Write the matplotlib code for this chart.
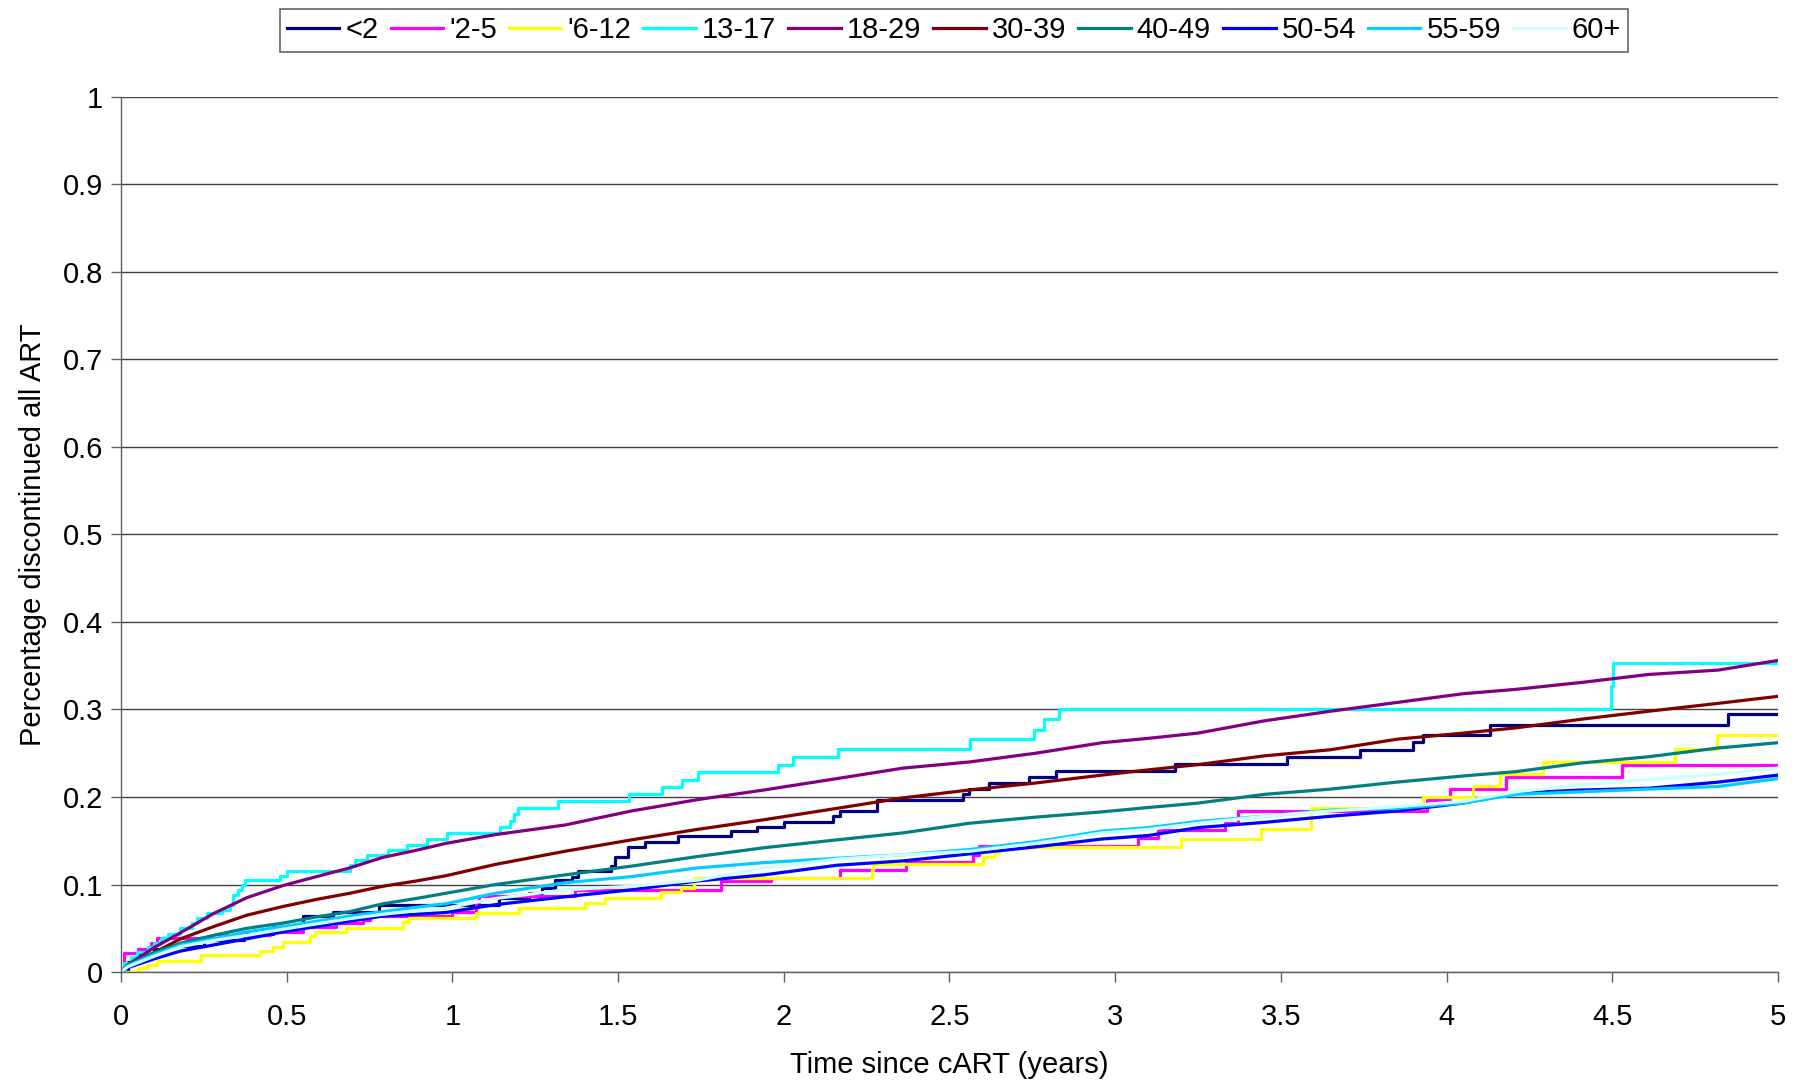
import matplotlib
matplotlib.use("Agg")
import matplotlib.pyplot as plt

plt.rcParams['font.family'] = ['Liberation Sans', 'DejaVu Sans']

# step-shaped groups (time in years, cumulative proportion)
t_lt2 = [0, 0.02, 0.05, 0.1, 0.15, 0.25, 0.37, 0.46, 0.55, 0.64, 0.78, 1.14, 1.23, 1.27, 1.31, 1.36, 1.38,
         1.48, 1.49, 1.53, 1.58, 1.68, 1.84, 1.92, 2.0, 2.15, 2.17, 2.28, 2.54, 2.56, 2.62, 2.74, 2.82,
         3.18, 3.52, 3.74, 3.9, 3.93, 4.13, 4.85, 5.0]
v_lt2 = [0, 0.012, 0.02, 0.026, 0.03, 0.037, 0.044, 0.052, 0.0645, 0.069, 0.077, 0.085, 0.09, 0.096, 0.105,
         0.109, 0.116, 0.121, 0.132, 0.143, 0.149, 0.155, 0.161, 0.166, 0.172, 0.178, 0.184, 0.197, 0.203,
         0.209, 0.216, 0.223, 0.23, 0.2375, 0.246, 0.2535, 0.2625, 0.271, 0.282, 0.295, 0.295]

t_2_5 = [0, 0.01, 0.05, 0.09, 0.11, 0.3, 0.45, 0.55, 0.65, 0.73, 0.75, 1.0, 1.07, 1.08, 1.37, 1.81, 1.96,
         2.17, 2.37, 2.57, 2.59, 3.07, 3.13, 3.33, 3.37, 3.94, 4.01, 4.18, 4.53, 5.0]
v_2_5 = [0, 0.022, 0.026, 0.033, 0.039, 0.042, 0.046, 0.052, 0.056, 0.059, 0.064, 0.069, 0.08, 0.087, 0.094,
         0.104, 0.108, 0.117, 0.126, 0.134, 0.1436, 0.153, 0.162, 0.17, 0.184, 0.197, 0.209, 0.223, 0.236, 0.236]

t_6_12 = [0, 0.05, 0.08, 0.11, 0.24, 0.42, 0.46, 0.49, 0.57, 0.585, 0.68, 0.85, 0.87, 1.07, 1.2, 1.4, 1.46,
          1.63, 1.69, 1.73, 2.265, 2.27, 2.6, 2.635, 2.65, 3.2, 3.44, 3.59, 3.93, 4.08, 4.16, 4.29, 4.69,
          4.815, 5.0]
v_6_12 = [0, 0.005, 0.008, 0.013, 0.019, 0.024, 0.029, 0.034, 0.041, 0.046, 0.05, 0.057, 0.062, 0.067, 0.073,
          0.079, 0.085, 0.092, 0.096, 0.107, 0.117, 0.124, 0.132, 0.136, 0.1425, 0.152, 0.163, 0.187, 0.2,
          0.213, 0.226, 0.24, 0.255, 0.271, 0.271]

t_13_17 = [0, 0.01, 0.03, 0.047, 0.083, 0.1, 0.12, 0.143, 0.178, 0.213, 0.228, 0.259, 0.304, 0.329, 0.339,
           0.354, 0.364, 0.374, 0.48, 0.5, 0.691, 0.706, 0.741, 0.807, 0.862, 0.922, 0.983, 1.144, 1.174,
           1.185, 1.199, 1.32, 1.533, 1.633, 1.692, 1.742, 1.983, 2.029, 2.165, 2.562, 2.756, 2.786, 2.832,
           4.496, 4.503, 5.0]
v_13_17 = [0, 0.01, 0.017, 0.023, 0.029, 0.033, 0.039, 0.044, 0.05, 0.056, 0.0616, 0.067, 0.071, 0.077, 0.088,
           0.094, 0.1, 0.105, 0.11, 0.116, 0.122, 0.128, 0.134, 0.14, 0.145, 0.152, 0.159, 0.166, 0.173,
           0.181, 0.188, 0.195, 0.203, 0.211, 0.219, 0.228, 0.236, 0.2455, 0.255, 0.266, 0.277, 0.289, 0.3,
           0.327, 0.353, 0.353]

# larger groups, nearly smooth curves read at common times
t_smooth = [0, 0.02, 0.1, 0.18, 0.28, 0.38, 0.49, 0.59, 0.69, 0.79, 0.89, 0.98, 1.13, 1.34, 1.54, 1.74, 1.94,
            2.16, 2.36, 2.56, 2.76, 2.96, 3.1, 3.25, 3.45, 3.65, 3.85, 4.05, 4.21, 4.41, 4.61, 4.82, 5.0]
v_18_29 = [0, 0.008, 0.028, 0.045, 0.067, 0.085, 0.099, 0.109, 0.119, 0.131, 0.139, 0.147, 0.157, 0.168, 0.184,
           0.197, 0.208, 0.221, 0.233, 0.24, 0.25, 0.262, 0.267, 0.273, 0.287, 0.298, 0.308, 0.318, 0.323,
           0.331, 0.34, 0.345, 0.356]
v_30_39 = [0, 0.008, 0.022, 0.038, 0.052, 0.065, 0.075, 0.083, 0.09, 0.098, 0.104, 0.11, 0.123, 0.138, 0.151,
           0.163, 0.174, 0.187, 0.199, 0.208, 0.216, 0.225, 0.231, 0.237, 0.247, 0.254, 0.266, 0.273, 0.279,
           0.289, 0.298, 0.307, 0.315]
v_40_49 = [0, 0.008, 0.022, 0.033, 0.042, 0.05, 0.056, 0.063, 0.069, 0.078, 0.084, 0.09, 0.1, 0.111, 0.121,
           0.132, 0.142, 0.151, 0.159, 0.17, 0.177, 0.183, 0.188, 0.193, 0.203, 0.209, 0.217, 0.224, 0.229,
           0.239, 0.246, 0.256, 0.262]
v_50_54 = [0, 0.005, 0.015, 0.024, 0.031, 0.038, 0.046, 0.052, 0.058, 0.064, 0.066, 0.068, 0.077, 0.086, 0.094,
           0.104, 0.111, 0.122, 0.127, 0.135, 0.143, 0.152, 0.156, 0.165, 0.171, 0.178, 0.184, 0.193, 0.2045,
           0.208, 0.21, 0.217, 0.225]
v_55_59 = [0, 0.007, 0.02, 0.031, 0.038, 0.046, 0.052, 0.058, 0.064, 0.069, 0.074, 0.078, 0.09, 0.102, 0.109,
           0.119, 0.125, 0.13, 0.134, 0.14, 0.149, 0.161, 0.165, 0.172, 0.178, 0.185, 0.187, 0.193, 0.203,
           0.206, 0.209, 0.212, 0.221]
v_60p = [0, 0.006, 0.018, 0.029, 0.036, 0.042, 0.049, 0.055, 0.061, 0.066, 0.07, 0.073, 0.084, 0.094, 0.098,
         0.105, 0.119, 0.129, 0.134, 0.138, 0.147, 0.159, 0.163, 0.17, 0.178, 0.184, 0.189, 0.195, 0.206,
         0.214, 0.22, 0.226, 0.233]

labels = ['<2', "'2-5", "'6-12", '13-17', '18-29', '30-39', '40-49', '50-54', '55-59', '60+']
colors = ['#000080', '#FF00FF', '#FFFF00', '#00FFFF', '#800080', '#800000', '#008080', '#0000FF', '#00CCFF', '#CCFFFF']

x_ticks = [0, 0.5, 1, 1.5, 2, 2.5, 3, 3.5, 4, 4.5, 5]
x_ticklabels = ['0', '0.5', '1', '1.5', '2', '2.5', '3', '3.5', '4', '4.5', '5']
y_ticks = [0, 0.1, 0.2, 0.3, 0.4, 0.5, 0.6, 0.7, 0.8, 0.9, 1]
y_ticklabels = ['0', '0.1', '0.2', '0.3', '0.4', '0.5', '0.6', '0.7', '0.8', '0.9', '1']

series = [
    (t_lt2, v_lt2, True),
    (t_2_5, v_2_5, True),
    (t_6_12, v_6_12, True),
    (t_13_17, v_13_17, True),
    (t_smooth, v_18_29, False),
    (t_smooth, v_30_39, False),
    (t_smooth, v_40_49, False),
    (t_smooth, v_50_54, False),
    (t_smooth, v_55_59, False),
    (t_smooth, v_60p, False),
]

fig = plt.figure(figsize=(18.03, 10.85), dpi=100)
ax = fig.add_axes([0.0671, 0.1041, 0.919, 0.8067])

for (t, v, step), lab, col in zip(series, labels, colors):
    ax.plot(t, v, color=col, lw=2.3, label=lab,
            drawstyle='steps-post' if step else 'default')

ax.set_xlim(0, 5)
ax.set_ylim(0, 1)
ax.set_xticks(x_ticks)
ax.set_xticklabels(x_ticklabels)
ax.set_yticks(y_ticks)
ax.set_yticklabels(y_ticklabels)
ax.yaxis.grid(True, color='#404040', lw=1.0)
ax.set_axisbelow(True)

for s in ['top', 'right']:
    ax.spines[s].set_visible(False)
for s in ['left', 'bottom']:
    ax.spines[s].set_color('#606060')
    ax.spines[s].set_linewidth(1.0)

ax.tick_params(axis='both', labelsize=21, color='#606060', width=1.0, length=7)
ax.tick_params(axis='x', pad=15)
ax.tick_params(axis='y', pad=6)

ax.set_xlabel('Time since cART (years)', fontsize=21, labelpad=15)
ax.set_ylabel('Percentage discontinued all ART', fontsize=21, labelpad=11)

leg = fig.legend(loc='center', bbox_to_anchor=(0.529, 0.972), ncol=10, fontsize=21,
                 frameon=True, fancybox=False, edgecolor='#404040', borderpad=0.25,
                 handlelength=1.8, handletextpad=0.2, columnspacing=0.42, borderaxespad=0)
leg.get_frame().set_linewidth(1.2)

fig.savefig('out.png', dpi=100)
